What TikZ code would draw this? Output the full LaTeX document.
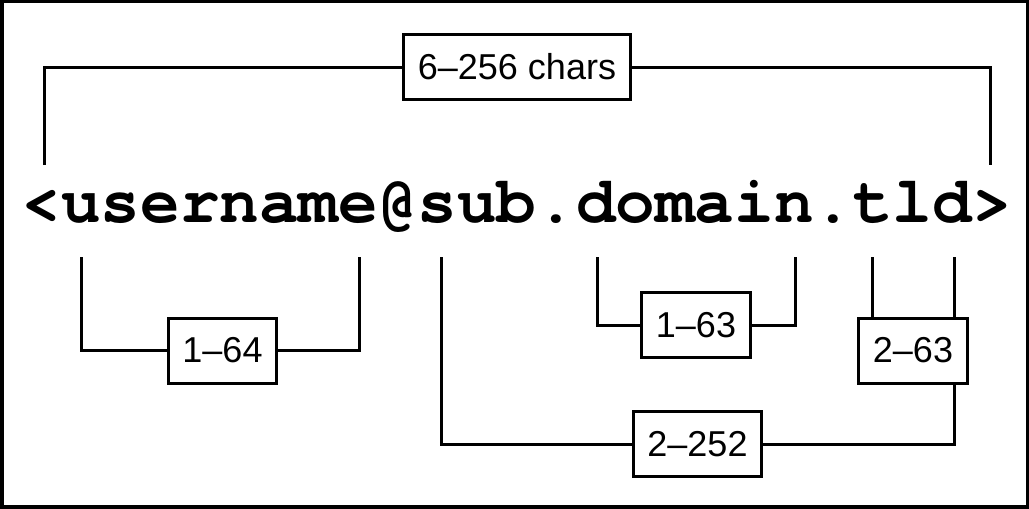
\documentclass[tikz,border=0pt]{standalone}
\usepackage{fontspec}
\setmainfont{Liberation Sans}
\setmonofont{TeX Gyre Cursor}
\usepackage{tikz}
\usetikzlibrary{positioning}

\begin{document}
\begin{tikzpicture}[x=1pt, y=-1pt, line width=3pt, lenbox/.style={draw, fill=white, line width=3pt, inner xsep=14pt, inner ysep=0pt, minimum height=65pt, font=\fontsize{36}{40}\selectfont}]
\fill[black] (0,0) rectangle (1029,509); \fill[white] (4,3) rectangle (1026,505);
\node[anchor=base west, inner sep=0pt, font=\ttfamily\bfseries\fontsize{66}{70}\selectfont] (addr) at (20.2,222) {<username@sub.domain.tld>};
\node[lenbox] (total) at (517,67) {6\textendash256 chars};
\node[lenbox] (local) at (222.5,350.5) {1\textendash64};
\node[lenbox] (sub) at (696,325) {1\textendash63};
\node[lenbox] (tld) at (913,350.5) {2\textendash63};
\node[lenbox] (domain) at (697.5,444) {2\textendash252};
\coordinate (lt) at (44,165); \coordinate (rt) at (990,165);
\coordinate (u1) at (81,257); \coordinate (u2) at (359,257);
\coordinate (s1) at (441,257);
\coordinate (d1) at (597,257); \coordinate (d2) at (795,257);
\coordinate (t1) at (872,257); \coordinate (t2) at (954,257);
\draw (lt) |- (total.west); \draw (total.east) -| (rt);
\draw (u1) |- (local.west); \draw (local.east) -| (u2);
\draw (d1) |- (sub.west); \draw (sub.east) -| (d2);
\draw (t1) -- (t1 |- tld.north); \draw (t2) -- (t2 |- tld.north);
\draw (s1) |- (domain.west); \draw (domain.east) -| (tld.south -| t2);
\end{tikzpicture}
\end{document}
